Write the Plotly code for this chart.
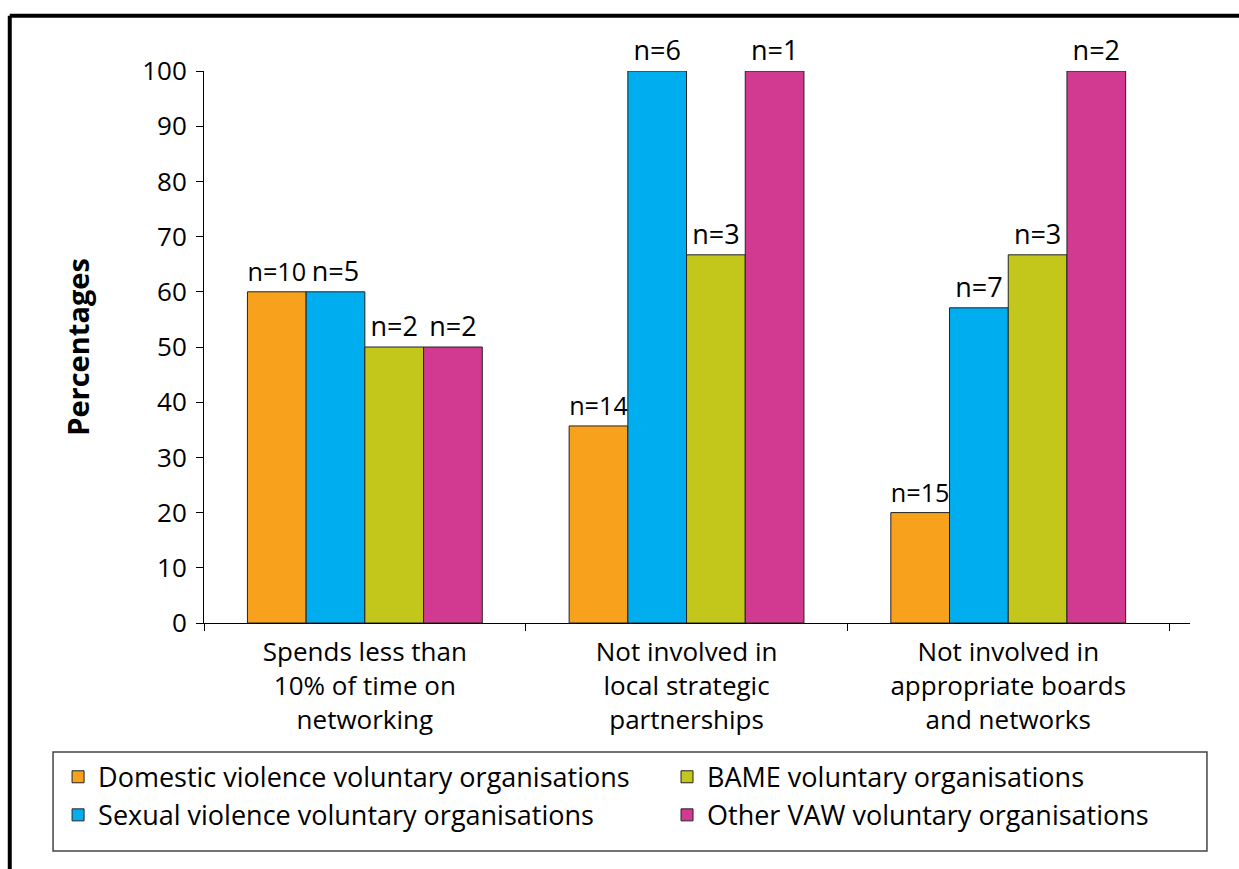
import plotly.graph_objects as go

categories = [
    "Spends less than<br>10% of time on<br>networking",
    "Not involved in<br>local strategic<br>partnerships",
    "Not involved in<br>appropriate boards<br>and networks",
]
series_names = [
    "Domestic violence voluntary organisations",
    "Sexual violence voluntary organisations",
    "BAME voluntary organisations",
    "Other VAW voluntary organisations",
]
percentages = [
    [60.0, 35.7, 20.0],
    [60.0, 100.0, 57.1],
    [50.0, 66.7, 66.7],
    [50.0, 100.0, 100.0],
]
sample_sizes = [
    [10, 14, 15],
    [5, 6, 7],
    [2, 3, 3],
    [2, 1, 2],
]
colors = ["#F7A11C", "#00AEEF", "#C4C71B", "#D13A90"]
legend_columns = ["legend", "legend", "legend2", "legend2"]

FONT = "Open Sans"

fig = go.Figure()
for name, vals, ns, col, leg in zip(series_names, percentages, sample_sizes, colors, legend_columns):
    fig.add_trace(go.Bar(
        x=categories,
        y=vals,
        name=name,
        marker=dict(color=col, line=dict(color="#222222", width=1)),
        text=[f"n={n}" for n in ns],
        textposition="outside",
        textfont=dict(size=27, color="black", family=FONT),
        cliponaxis=False,
        legend=leg,
    ))

legend_style = dict(
    orientation="v",
    yanchor="top",
    xanchor="left",
    bgcolor="rgba(0,0,0,0)",
    borderwidth=0,
    font=dict(size=27, family=FONT),
    itemclick=False,
)

fig.update_layout(
    width=1239,
    height=869,
    barmode="group",
    bargap=0.27,
    bargroupgap=0,
    plot_bgcolor="white",
    paper_bgcolor="white",
    font=dict(family=FONT, color="black", size=24),
    margin=dict(l=204, r=49, t=71, b=246, autoexpand=False),
    legend=dict(x=-0.148, y=-0.235, **legend_style),
    legend2=dict(x=0.4696, y=-0.235, **legend_style),
    showlegend=True,
)

fig.update_yaxes(
    range=[0, 100],
    tickvals=list(range(0, 101, 10)),
    ticks="outside",
    ticklen=7,
    tickcolor="black",
    showline=True,
    linecolor="black",
    linewidth=1,
    showgrid=False,
    zeroline=False,
    automargin=False,
    ticklabelstandoff=4,
    tickfont=dict(size=26, family=FONT),
    title=dict(text="<b>Percentages</b>", font=dict(size=29, family=FONT), standoff=44),
)
fig.update_xaxes(
    range=[-0.5, 2.565],
    tickson="boundaries",
    ticks="outside",
    ticklen=7,
    tickcolor="black",
    showline=True,
    linecolor="black",
    linewidth=1,
    showgrid=False,
    automargin=False,
    ticklabelstandoff=6,
    tickfont=dict(size=26, family=FONT),
)

# legend frame enclosing both legend columns
fig.add_shape(type="rect", xref="paper", yref="paper",
              x0=-0.1531, x1=1.0172, y0=-0.2337, y1=-0.4130,
              line=dict(color="#444444", width=1.5), fillcolor="rgba(0,0,0,0)")

# outer frame of the figure (top and left edges)
fig.add_shape(type="line", xref="paper", yref="paper",
              x0=-0.197, x1=1.06, y0=1.1, y1=1.1,
              line=dict(color="black", width=4))
fig.add_shape(type="line", xref="paper", yref="paper",
              x0=-0.197, x1=-0.197, y0=1.1, y1=-0.45,
              line=dict(color="black", width=4))

fig.write_html("out.html")
